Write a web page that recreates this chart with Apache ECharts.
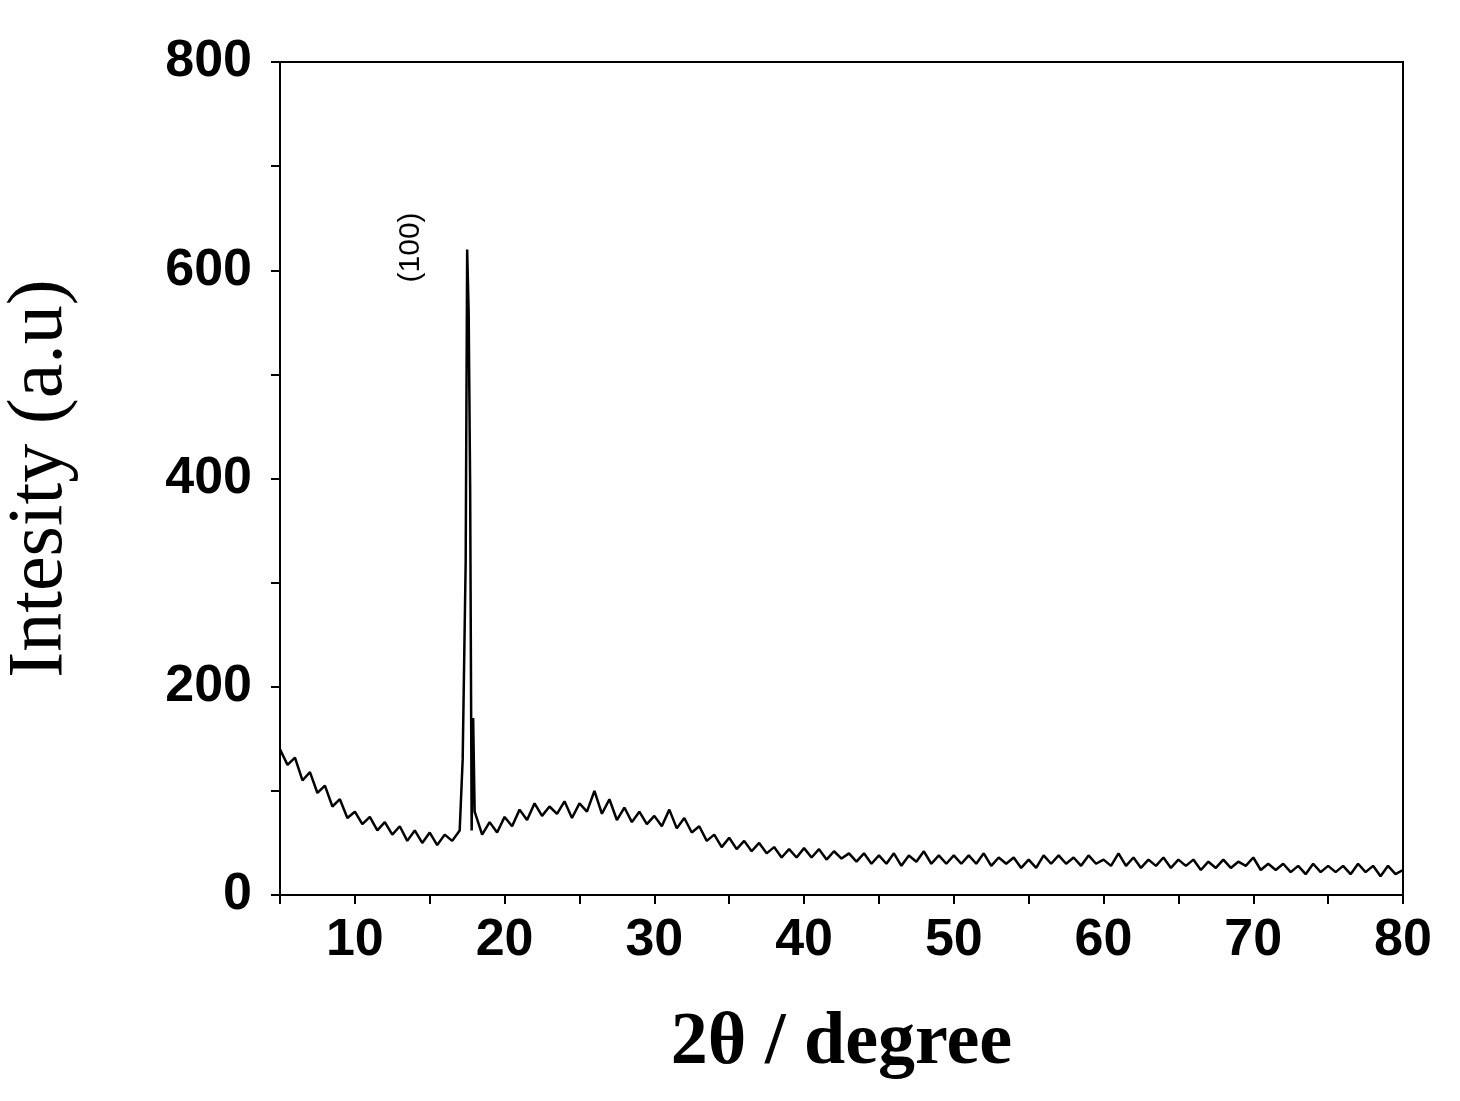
<!DOCTYPE html>
<html><head><meta charset="utf-8">
<script src="https://cdn.jsdelivr.net/npm/echarts@6/dist/echarts.min.js"></script>
<style>html,body{margin:0;padding:0;background:#fff}#c{width:1460px;height:1101px}</style>
</head><body><div id="c"></div>
<script>
const angles = [5,5.5,6,6.5,7,7.5,8,8.5,9,9.5,10,10.5,11,11.5,12,12.5,13,13.5,14,14.5,15,15.5,16,16.5,17,17.2,17.4,17.5,17.6,17.7,17.8,17.9,18,18.5,19,19.5,20,20.5,21,21.5,22,22.5,23,23.5,24,24.5,25,25.5,26,26.5,27,27.5,28,28.5,29,29.5,30,30.5,31,31.5,32,32.5,33,33.5,34,34.5,35,35.5,36,36.5,37,37.5,38,38.5,39,39.5,40,40.5,41,41.5,42,42.5,43,43.5,44,44.5,45,45.5,46,46.5,47,47.5,48,48.5,49,49.5,50,50.5,51,51.5,52,52.5,53,53.5,54,54.5,55,55.5,56,56.5,57,57.5,58,58.5,59,59.5,60,60.5,61,61.5,62,62.5,63,63.5,64,64.5,65,65.5,66,66.5,67,67.5,68,68.5,69,69.5,70,70.5,71,71.5,72,72.5,73,73.5,74,74.5,75,75.5,76,76.5,77,77.5,78,78.5,79,79.5,80];
const intensity = [140,125,132,110,118,98,105,85,92,74,80,68,75,62,70,58,66,52,62,50,60,48,58,52,62,130,320,620,560,390,62,170,80,58,70,60,75,66,82,72,88,76,85,78,90,74,88,80,100,78,92,72,84,70,80,68,76,66,82,64,74,60,66,52,58,46,55,44,52,42,50,40,46,36,44,36,45,36,44,34,42,35,40,32,40,30,38,30,40,28,38,32,42,30,38,30,38,30,38,30,40,28,36,30,36,26,34,26,38,30,38,30,36,28,38,30,34,28,40,28,36,26,34,28,36,26,34,28,34,24,32,26,34,26,32,28,36,24,30,24,30,22,28,20,30,22,28,22,28,20,30,22,28,18,28,20,24];
const xTickLabels = ['10','20','30','40','50','60','70','80'];
const yTickLabels = ['0','200','400','600','800'];
const peakLabel = '(100)';
const xTitle = '2θ / degree';
const yTitle = 'Intesity (a.u)';

const chart = echarts.init(document.getElementById('c'));
const lbl = {color:'#000',fontFamily:'Arial, Liberation Sans',fontWeight:'bold',fontSize:52};
chart.setOption({
  animation:false,
  grid:{left:280,right:57,top:62,bottom:206,show:true,borderColor:'#000',borderWidth:2,outerBoundsMode:'none',containLabel:false},
  xAxis:{type:'value',min:5,max:80,interval:5,
    name:xTitle,nameLocation:'middle',nameGap:112,
    nameTextStyle:{fontFamily:'Liberation Serif, Times New Roman',fontWeight:'bold',fontSize:74,color:'#000'},
    axisLine:{lineStyle:{color:'#000',width:2}},
    axisTick:{length:9,lineStyle:{color:'#000',width:2}},
    axisLabel:Object.assign({margin:20,formatter:v=>xTickLabels.includes(String(v))?String(v):''},lbl),
    splitLine:{show:false}},
  yAxis:{type:'value',min:0,max:800,interval:100,
    name:yTitle,nameLocation:'middle',nameGap:200,
    nameTextStyle:{fontFamily:'Liberation Serif, Times New Roman',fontSize:78,color:'#000'},
    axisLine:{lineStyle:{color:'#000',width:2}},
    axisTick:{length:9,lineStyle:{color:'#000',width:2}},
    axisLabel:Object.assign({margin:28,formatter:v=>yTickLabels.includes(String(v))?String(v):''},lbl),
    splitLine:{show:false}},
  series:[{type:'line',data:angles.map((a,i)=>[a,intensity[i]]),symbol:'none',
    lineStyle:{color:'#000',width:2.5},
    markPoint:{symbol:'circle',symbolSize:0,data:[{coord:[17.6,620]}],
      label:{show:true,formatter:peakLabel,rotate:90,position:'inside',offset:[2,-58],
        fontFamily:'Arial, Liberation Sans',fontSize:30,color:'#000'}}}]
});
</script></body></html>
